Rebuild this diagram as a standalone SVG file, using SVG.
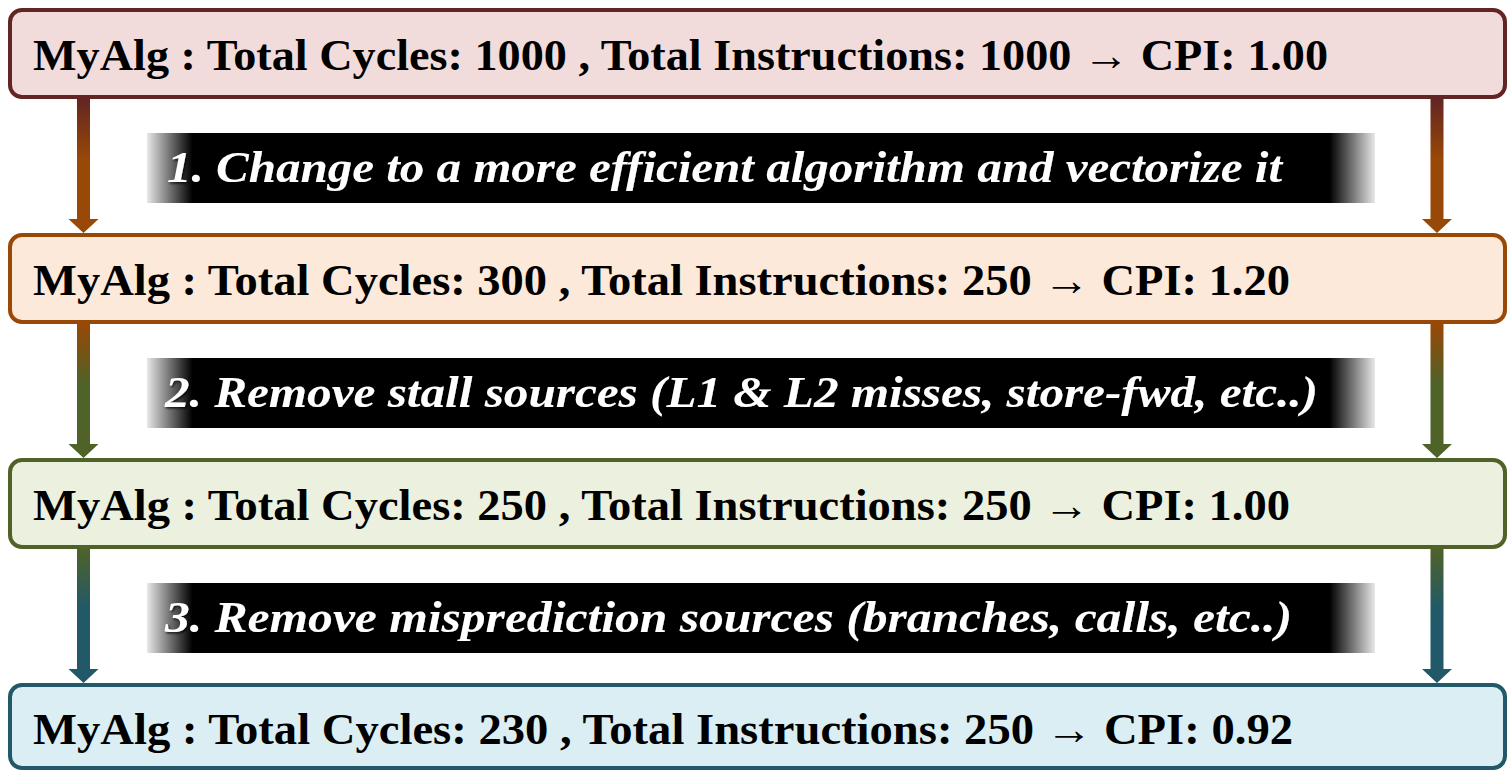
<svg xmlns="http://www.w3.org/2000/svg" width="1509" height="770" viewBox="0 0 1509 770">
<defs>
<style>
.box{stroke-width:4}
.bt{font-family:"Liberation Serif","Times New Roman",serif;font-weight:bold;font-size:44px;fill:#000}
.lt{font-family:"Liberation Serif","Times New Roman",serif;font-weight:bold;font-style:italic;font-size:44px;fill:#fff}
</style>
<linearGradient id="bar" x1="0" y1="0" x2="1" y2="0">
<stop offset="0" stop-color="#e8e8e8"/>
<stop offset="0.037" stop-color="#000"/>
<stop offset="0.963" stop-color="#000"/>
<stop offset="1" stop-color="#e8e8e8"/>
</linearGradient>
<linearGradient id="a1" x1="0" y1="0" x2="0" y2="1">
<stop offset="0" stop-color="#632523"/>
<stop offset="0.45" stop-color="#984807"/>
</linearGradient>
<linearGradient id="a2" x1="0" y1="0" x2="0" y2="1">
<stop offset="0" stop-color="#984807"/>
<stop offset="0.45" stop-color="#4F6228"/>
</linearGradient>
<linearGradient id="a3" x1="0" y1="0" x2="0" y2="1">
<stop offset="0" stop-color="#4F6228"/>
<stop offset="0.45" stop-color="#215968"/>
</linearGradient>
<filter id="sh" x="-5%" y="-20%" width="110%" height="140%">
<feDropShadow dx="1.5" dy="1.5" stdDeviation="1" flood-color="#000" flood-opacity="0.8"/>
</filter>
</defs>

<g id="connectors">
<path fill="url(#a1)" d="M77,99 H90 V219 H98.5 L83.5,233 L68.5,219 H77 Z"/>
<path fill="url(#a1)" d="M1430.5,99 H1443.5 V219 H1452 L1437,233 L1422,219 H1430.5 Z"/>
<path fill="url(#a2)" d="M77,324 H90 V444 H98.5 L83.5,458 L68.5,444 H77 Z"/>
<path fill="url(#a2)" d="M1430.5,324 H1443.5 V444 H1452 L1437,458 L1422,444 H1430.5 Z"/>
<path fill="url(#a3)" d="M77,549 H90 V669 H98.5 L83.5,683 L68.5,669 H77 Z"/>
<path fill="url(#a3)" d="M1430.5,549 H1443.5 V669 H1452 L1437,683 L1422,669 H1430.5 Z"/>
</g>

<g id="label1">
<rect x="147" y="133" width="1228" height="70" fill="url(#bar)"/>
<text class="lt" x="167" y="182" textLength="1115" lengthAdjust="spacingAndGlyphs" filter="url(#sh)">1. Change to a more efficient algorithm and vectorize it</text>
</g>
<g id="label2">
<rect x="147" y="358" width="1228" height="70" fill="url(#bar)"/>
<text class="lt" x="165" y="407" textLength="1153" lengthAdjust="spacingAndGlyphs" filter="url(#sh)">2. Remove stall sources (L1 &amp; L2 misses, store-fwd, etc..)</text>
</g>
<g id="label3">
<rect x="147" y="583" width="1228" height="70" fill="url(#bar)"/>
<text class="lt" x="165" y="632" textLength="1127" lengthAdjust="spacingAndGlyphs" filter="url(#sh)">3. Remove misprediction sources (branches, calls, etc..)</text>
</g>

<g id="node1">
<rect class="box" x="10" y="10" width="1495" height="87" rx="12" fill="#F2DCDB" stroke="#632523"/>
<text class="bt" x="33" y="70" textLength="1295" lengthAdjust="spacingAndGlyphs">MyAlg : Total Cycles: 1000 , Total Instructions: 1000 → CPI: 1.00</text>
</g>
<g id="node2">
<rect class="box" x="10" y="235" width="1495" height="87" rx="12" fill="#FDE9D9" stroke="#984807"/>
<text class="bt" x="33" y="295" textLength="1257" lengthAdjust="spacingAndGlyphs">MyAlg : Total Cycles: 300 , Total Instructions: 250 → CPI: 1.20</text>
</g>
<g id="node3">
<rect class="box" x="10" y="460" width="1495" height="87" rx="12" fill="#EBF1DE" stroke="#4F6228"/>
<text class="bt" x="33" y="520" textLength="1257" lengthAdjust="spacingAndGlyphs">MyAlg : Total Cycles: 250 , Total Instructions: 250 → CPI: 1.00</text>
</g>
<g id="node4">
<rect class="box" x="10" y="685" width="1495" height="83" rx="12" fill="#DBEEF4" stroke="#215968"/>
<text class="bt" x="33" y="744" textLength="1260" lengthAdjust="spacingAndGlyphs">MyAlg : Total Cycles: 230 , Total Instructions: 250 → CPI: 0.92</text>
</g>
</svg>
